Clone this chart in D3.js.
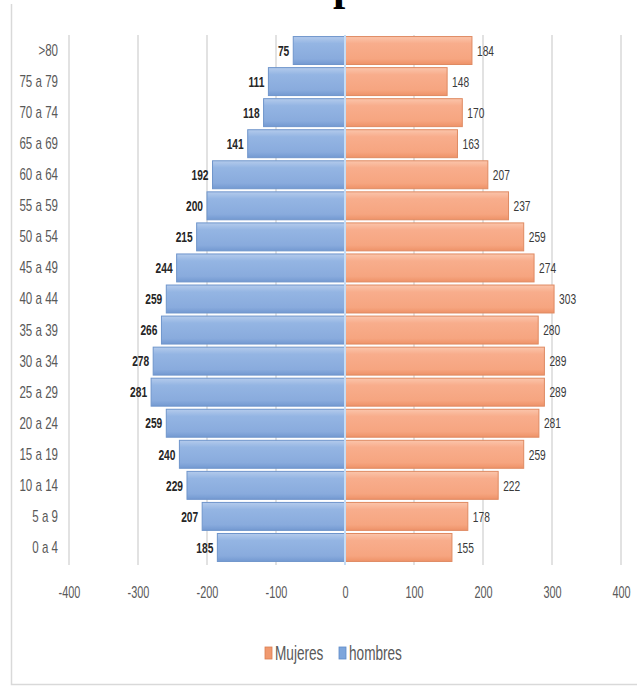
<!DOCTYPE html>
<html><head><meta charset="utf-8">
<script src="https://cdn.jsdelivr.net/npm/d3@7"></script>
<style>
html,body{margin:0;padding:0;background:#fff;}
svg{display:block;}
</style></head>
<body>
<script>
const categories = [">80","75 a 79","70 a 74","65 a 69","60 a 64","55 a 59","50 a 54","45 a 49","40 a 44","35 a 39","30 a 34","25 a 29","20 a 24","15 a 19","10 a 14","5 a 9","0 a 4"];
const hombres = [75,111,118,141,192,200,215,244,259,266,278,281,259,240,229,207,185];
const mujeres = [184,148,170,163,207,237,259,274,303,280,289,289,281,259,222,178,155];
const xTicks = [-400,-300,-200,-100,0,100,200,300,400];
const legendLabels = ["Mujeres","hombres"];
const titleText = "Pirámide de población";

const W = 637, H = 692;
const FONT = "'Liberation Sans',Arial,sans-serif";
const SQUEEZE = 0.68;
const svg = d3.select("body").append("svg").attr("width", W).attr("height", H);
svg.append("rect").attr("width", W).attr("height", H).attr("fill", "#fff");

// chart frame
svg.append("path").attr("d", `M11.5,4 V684.5 H637`).attr("fill","none").attr("stroke","#d9d9d9").attr("stroke-width",1.5);

// clipped title (only descender visible, as in the reference)
const title = svg.append("text").attr("y", 0).attr("font-family","'Liberation Serif',serif")
  .attr("font-weight","bold").attr("font-size",44).attr("fill","#000").text(titleText);
const pIdx = titleText.indexOf("población");
const pOff = title.node().getSubStringLength(0, pIdx);
title.attr("x", 333 - pOff);

const x = d3.scaleLinear().domain([-400, 400]).range([69, 621]);
const y = d3.scaleBand().domain(categories).range([35, 563]).paddingInner(0.1).paddingOuter(0.05);

const defs = svg.append("defs");
function grad(id, stops){
  const g = defs.append("linearGradient").attr("id", id).attr("x1",0).attr("y1",0).attr("x2",0).attr("y2",1);
  stops.forEach(([o,c]) => g.append("stop").attr("offset", o).attr("stop-color", c));
}
grad("gBlue", [[0,"#b4cbec"],[0.25,"#94b5e3"],[0.8,"#89abdd"],[1,"#7399d1"]]);
grad("gOrange", [[0,"#fbc5ab"],[0.25,"#f8ad8c"],[0.8,"#f6a580"],[1,"#ee9268"]]);

// gridlines
svg.append("g").selectAll("line").data(xTicks.filter(d => d !== 0)).join("line")
  .attr("x1", d => x(d)).attr("x2", d => x(d)).attr("y1", 35).attr("y2", 565)
  .attr("stroke", "#d9d9d9").attr("stroke-width", 1.5);

// bars
svg.append("g").selectAll("rect").data(categories).join("rect")
  .attr("x", (d,i) => x(-hombres[i])).attr("width", (d,i) => x(0) - x(-hombres[i]))
  .attr("y", d => y(d)).attr("height", y.bandwidth())
  .attr("fill", "url(#gBlue)").attr("stroke", "#6f95cb").attr("stroke-width", 1);
svg.append("g").selectAll("rect").data(categories).join("rect")
  .attr("x", x(0)).attr("width", (d,i) => x(mujeres[i]) - x(0))
  .attr("y", d => y(d)).attr("height", y.bandwidth())
  .attr("fill", "url(#gOrange)").attr("stroke", "#df8a62").attr("stroke-width", 1);
// zero line
svg.append("line").attr("x1", x(0)).attr("x2", x(0)).attr("y1", 35).attr("y2", 565)
  .attr("stroke", "#c5dcf5").attr("stroke-width", 2);

const narrow = [];
// value labels
svg.append("g").selectAll("text").data(categories).join("text")
  .attr("x", (d,i) => x(-hombres[i]) - 4).attr("y", d => y(d) + y.bandwidth()/2)
  .attr("dy","0.35em").attr("text-anchor","end").attr("font-family", FONT)
  .attr("font-size", 15).attr("font-weight","bold").attr("fill","#262626")
  .text((d,i) => hombres[i]).each(function(){ narrow.push(this); });
svg.append("g").selectAll("text").data(categories).join("text")
  .attr("x", (d,i) => x(mujeres[i]) + 5).attr("y", d => y(d) + y.bandwidth()/2)
  .attr("dy","0.35em").attr("text-anchor","start").attr("font-family", FONT)
  .attr("font-size", 15).attr("fill","#3a3a3a")
  .text((d,i) => mujeres[i]).each(function(){ narrow.push(this); });

// y axis labels
const yAxis = svg.append("g").attr("transform", "translate(58,0)")
  .call(d3.axisLeft(y).tickSize(0).tickPadding(0));
yAxis.select(".domain").remove();
yAxis.selectAll("text").attr("font-family", FONT).attr("font-size", 17).attr("fill", "#595959")
  .each(function(){ narrow.push(this); });

// x axis labels (condensed with a scale transform around each tick anchor)
const xAxis = svg.append("g").attr("transform", "translate(0,587)")
  .call(d3.axisBottom(x).tickValues(xTicks).tickSize(0).tickPadding(0).tickFormat(d => String(d)));
xAxis.select(".domain").remove();
xAxis.selectAll("text").attr("font-family", FONT).attr("font-size", 16).attr("fill", "#595959")
  .attr("transform", `scale(${SQUEEZE},1)`);

// legend
const leg = svg.append("g").attr("font-family", FONT).attr("font-size", 20).attr("fill","#595959");
const legColors = ["#f0996f", "#7ea6dc"];
const legX = [265, 339];
legendLabels.forEach((t, i) => {
  leg.append("rect").attr("x", legX[i]).attr("y", 647).attr("width", 7).attr("height", 12)
    .attr("fill", legColors[i]).attr("stroke", i ? "#5f8cc8" : "#d97e52").attr("stroke-width", 0.8);
  leg.append("text").attr("x", legX[i] + 10).attr("y", 653).attr("dy","0.35em").text(t)
    .each(function(){ narrow.push(this); });
});

// condense text horizontally to mimic the narrow face of the original
narrow.forEach(el => {
  const len = el.getComputedTextLength();
  el.setAttribute("textLength", (len * SQUEEZE).toFixed(2));
  el.setAttribute("lengthAdjust", "spacingAndGlyphs");
});
</script>
</body></html>
